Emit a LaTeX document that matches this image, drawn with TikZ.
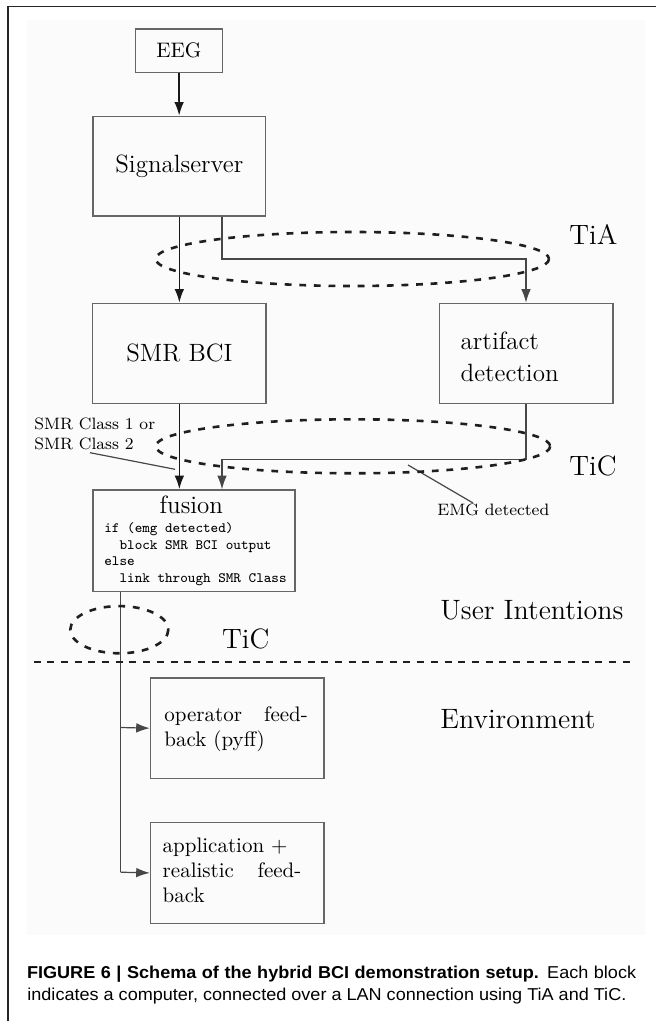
\documentclass[tikz,border=0pt]{standalone}
\usepackage{fontspec}
\usepackage{graphicx}
\newfontfamily\capfont[FakeStretch=1.05]{Liberation Sans}
\usetikzlibrary{arrows.meta}
\newcommand{\sz}[2]{\fontsize{#1}{#2}\selectfont}

\begin{document}
\begin{tikzpicture}[x=0.5pt,y=-0.5pt,
  frame/.style={line width=0.7pt, draw=black!85},
  box/.style={draw=black!60, line width=0.7pt, inner sep=0pt, anchor=north west},
  txt/.style={inner sep=0pt, anchor=base west},
  tip/.style={-{Latex[length=6.8pt,width=4.8pt]}},
  flow/.style={line width=0.85pt, draw=black!90, tip},
  link/.style={line width=0.6pt, draw=black!72},
  linkarrow/.style={link, tip},
  ring/.style={draw=black!88, line width=1.3pt, dash pattern=on 3.4pt off 3.9pt},
  split/.style={draw=black!88, line width=1.05pt, dash pattern=on 3.5pt off 3.35pt},
  bigfont/.style={font=\sz{12.5}{16}},
  midfont/.style={font=\sz{10.5}{12.5}},
  labfont/.style={font=\sz{8.25}{10}},
  zonefont/.style={font=\sz{14}{17}},
  codefont/.style={font=\ttfamily\sz{7.15}{8.4}},
  capstyle/.style={font=\capfont\sz{8.6}{11}}
]
\useasboundingbox (0,0) rectangle (656,1021);

% figure panel and frame
\fill[black!1.5] (27,20) rectangle (645,935);
\draw[frame] (8,1021) -- (8,6.5) -- (656,6.5);

% computers
\node[box, font=\sz{10.5}{12.5}, minimum width=43.5pt, minimum height=21.7pt] (eeg) at (134.7,28.3) {EEG};
\node[box, bigfont, minimum width=86.35pt, minimum height=49.8pt] (sig) at (92.3,115.7) {Signalserver};
\node[box, bigfont, minimum width=86.65pt, minimum height=50pt] (smr) at (92,302.7) {SMR BCI};
\node[box, minimum width=86.8pt, minimum height=50pt] (art) at (438.5,302.7) {};
\node[box, minimum width=100.9pt, minimum height=50.7pt] (fus) at (92.3,489.3) {};
\node[box, minimum width=86.8pt, minimum height=50.2pt] (op) at (149.8,677.3) {};
\node[box, minimum width=86.8pt, minimum height=50.5pt] (app) at (149.8,821.7) {};

% box texts
\node[txt, bigfont] (tArt) at (460.3,350) {\begin{tabular}[t]{@{}l@{}}artifact\\detection\end{tabular}};
\node[txt, bigfont] (tFus) at (159.3,513.3) {fusion};
\node[txt, codefont] (tCode) at (104,532.3) {\begin{tabular}[t]{@{}l@{}}if (emg detected)\\
\phantom{xx}block SMR BCI output\\
else\\
\phantom{xx}link through SMR Class\end{tabular}};
\node[txt, midfont] (tOp) at (164,721.7) {\begin{tabular}[t]{@{}l@{}}\makebox[71.75pt][s]{operator feed-}\\back (pyff)\end{tabular}};
\node[txt, midfont] (tApp) at (162.3,852) {\begin{tabular}[t]{@{}l@{}}application +\\\makebox[69.35pt][s]{realistic feed-}\\back\end{tabular}};

% zone and protocol labels
\node[txt, zonefont] (lTiA) at (569,245) {TiA};
\node[txt, zonefont] (lTiC) at (569,475.7) {TiC};
\node[txt, zonefont] (lTiCb) at (221.8,648.3) {TiC};
\node[txt, zonefont] (lUser) at (440,619.3) {User Intentions};
\node[txt, zonefont] (lEnv) at (440,728.3) {Environment};
\node[txt, labfont] (lCls) at (34,429.3) {\begin{tabular}[t]{@{}l@{}}SMR Class 1 or\\SMR Class 2\end{tabular}};
\node[txt, labfont] (lEmg) at (437,515) {EMG detected};

% bend points of the connectors
\coordinate (bendA) at (222,259);
\coordinate (bendB) at (222,459.5);
\coordinate (brOp) at (120.7,727.5);
\coordinate (brApp) at (120.7,872.2);
\coordinate (pCls) at (175,469.3);
\coordinate (pEmg) at (408,465);

% data flow
\draw[flow] (eeg) -- (sig);
\draw[flow] (sig.south) -- (smr.north);
\draw[linkarrow] (sig.south -| bendA) -- (bendA) -| (art.north);
\draw[flow] (smr.south) -- (fus.north -| smr.south);
\draw[linkarrow] (art.south) |- (bendB) -- (fus.north -| bendB);
\draw[link] (fus.south -| brApp) -- (brApp);
\draw[linkarrow] (brOp) -- (op.west);
\draw[linkarrow] (brApp) -- (app.west);

% label pointers
\draw[link] ([xshift=28pt,yshift=1.5pt]lCls.south west) -- (pCls);
\draw[link] ([xshift=18pt]lEmg.north west) -- (pEmg);

% network links
\draw[ring] (352.3,259) ellipse [x radius=196.7, y radius=27];
\draw[ring] (352.9,446.3) ellipse [x radius=197.3, y radius=27];
\draw[ring] (119.3,629.7) ellipse [x radius=49, y radius=23.6];

% separation between user and environment
\draw[split] (33.5,662) -- (634,662);

% caption
\node[txt, capstyle] (cap1) at (26.7,978.3) {\makebox[304.5pt][s]{\bfseries FIGURE 6 | Schema of the hybrid BCI demonstration setup.\mdseries{} Each block}};
\node[txt, capstyle] (cap2) at (27,1000.3) {indicates a computer, connected over a LAN connection using TiA and TiC.};
\end{tikzpicture}
\end{document}
